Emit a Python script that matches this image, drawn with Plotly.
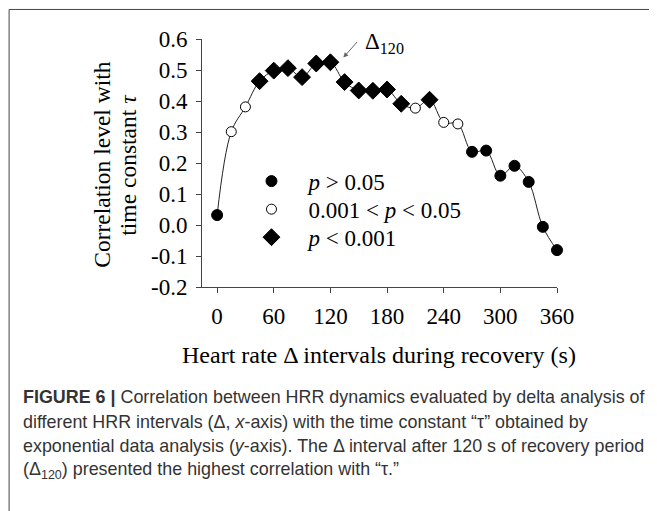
import plotly.graph_objects as go

# ---- data ----
intervals = [0, 15, 30, 45, 60, 75, 90, 105, 120, 135, 150, 165, 180,
             195, 210, 225, 240, 255, 270, 285, 300, 315, 330, 345, 360]
correlation = [0.032, 0.301, 0.381, 0.464, 0.498, 0.506, 0.477, 0.521, 0.525,
               0.461, 0.434, 0.433, 0.437, 0.391, 0.377, 0.404, 0.331, 0.326,
               0.236, 0.240, 0.159, 0.191, 0.139, -0.006, -0.081]
# significance class per point: 'ns' p>0.05, 'mid' 0.001<p<0.05, 'hi' p<0.001
significance = ['ns', 'mid', 'mid', 'hi', 'hi', 'hi', 'hi', 'hi', 'hi',
                'hi', 'hi', 'hi', 'hi', 'hi', 'mid', 'hi', 'mid', 'mid',
                'ns', 'ns', 'ns', 'ns', 'ns', 'ns', 'ns']
legend_labels = {
    'ns': '<i>p</i> &gt; 0.05',
    'mid': '0.001 &lt; <i>p</i> &lt; 0.05',
    'hi': '<i>p</i> &lt; 0.001',
}
x_ticks = [0, 60, 120, 180, 240, 300, 360]
y_ticks = [-0.2, -0.1, 0.0, 0.1, 0.2, 0.3, 0.4, 0.5, 0.6]
y_ticktext = ['-0.2', '-0.1', '0.0', '0.1', '0.2', '0.3', '0.4', '0.5', '0.6']

y_title_lines = ['Correlation level with', 'time constant <i>τ</i>']
x_title = 'Heart rate Δ intervals during recovery (s)'
caption_lines = [
    '<b>FIGURE 6 |</b> Correlation between HRR dynamics evaluated by delta analysis of',
    'different HRR intervals (Δ, <i>x</i>-axis) with the time constant “τ” obtained by',
    'exponential data analysis (<i>y</i>-axis). The Δ interval after 120 s of recovery period',
    '(Δ<sub>120</sub>) presented the highest correlation with “τ.”',
]

SERIF = 'Liberation Serif, Times New Roman, serif'
CAPFONT = 'Liberation Sans, Arial, sans-serif'

# the page body has an 8px margin, so the figure is drawn 8px in from the window
OFF = 8
W, H = 657 - OFF, 511 - OFF
L, T = 201.5 - OFF, 39 - OFF
pw, ph = 355.2, 247.7
R, B = W - L - pw, H - T - ph


def px2paper(px, py):
    """window pixel -> paper coordinate"""
    return (px - OFF - L) / pw, (H - B - (py - OFF)) / ph


fig = go.Figure()

# connecting smoothed line
fig.add_trace(go.Scatter(
    x=intervals, y=correlation, mode='lines',
    line=dict(color='#222', width=1, shape='spline', smoothing=1),
    showlegend=False, hoverinfo='skip', cliponaxis=False))

styles = {
    'ns': dict(symbol='circle', size=11, color='black', line=dict(color='black', width=1)),
    'mid': dict(symbol='circle', size=10, color='white', line=dict(color='black', width=1)),
    'hi': dict(symbol='diamond', size=13, color='black', line=dict(color='black', width=1)),
}
legend_ids = {'ns': 'legend', 'mid': 'legend2', 'hi': 'legend3'}
legend_rows = {'ns': 181, 'mid': 209, 'hi': 237}
for key in ['ns', 'mid', 'hi']:
    xs = [x for x, s in zip(intervals, significance) if s == key]
    ys = [y for y, s in zip(correlation, significance) if s == key]
    fig.add_trace(go.Scatter(
        x=xs, y=ys, mode='markers', name=legend_labels[key],
        marker=styles[key], showlegend=True, legend=legend_ids[key],
        cliponaxis=False))

legend_common = dict(xanchor='left', yanchor='middle',
                     font=dict(family=SERIF, size=23, color='black'),
                     bgcolor='rgba(0,0,0,0)', itemwidth=64, borderwidth=0)
legends = {}
for key in ['ns', 'mid', 'hi']:
    lx, ly = px2paper(234, legend_rows[key])
    legends[legend_ids[key]] = dict(x=lx, y=ly, **legend_common)

fig.update_layout(
    width=W, height=H,
    margin=dict(l=L, r=R, t=T, b=B),
    plot_bgcolor='white', paper_bgcolor='white',
    showlegend=True,
    xaxis=dict(range=[-16, 360], tickvals=x_ticks, ticks='outside', ticklen=5,
               tickcolor='#444', showline=True, linecolor='#444', linewidth=1,
               showgrid=False, zeroline=False, automargin=False,
               tickfont=dict(family=SERIF, size=23, color='black'),
               ticklabelstandoff=3),
    yaxis=dict(range=[-0.2, 0.6], tickvals=y_ticks, ticktext=y_ticktext,
               ticks='outside', ticklen=5, tickcolor='#444', showline=True,
               linecolor='#444', linewidth=1, showgrid=False, zeroline=False,
               automargin=False,
               tickfont=dict(family=SERIF, size=23, color='black'),
               ticklabelstandoff=4),
    **legends,
)

# axis titles
tx, ty = px2paper(379, 355)
fig.add_annotation(xref='paper', yref='paper', x=tx, y=ty, showarrow=False,
                   text=x_title,
                   font=dict(family=SERIF, size=24, color='black'),
                   xanchor='center', yanchor='middle')
for line, lxp in zip(y_title_lines, [102, 128]):
    tx, ty = px2paper(lxp, 165)
    fig.add_annotation(xref='paper', yref='paper', x=tx, y=ty, showarrow=False,
                       text=line, textangle=-90,
                       font=dict(family=SERIF, size=23.5, color='black'),
                       xanchor='center', yanchor='middle')

# Δ120 label with arrow
fig.add_annotation(x=133.7, y=0.540, ax=15, ay=-17, text='', showarrow=True,
                   arrowhead=2, arrowsize=1, arrowwidth=1, arrowcolor='#666')
fig.add_annotation(x=154.5, y=0.588, text='Δ<sub>120</sub>', showarrow=False,
                   xanchor='left', yanchor='middle',
                   font=dict(family=SERIF, size=23, color='black'))

# caption
cap_y = [396.7, 421.7, 446, 470]
for line, cy in zip(caption_lines, cap_y):
    cx, cyp = px2paper(20, cy)
    fig.add_annotation(xref='paper', yref='paper', x=cx, y=cyp, showarrow=False,
                       text=line, xanchor='left', yanchor='middle',
                       font=dict(family=CAPFONT, size=17.9, color='#333'))

# frame
x0, y1 = px2paper(8.5, 9.5)
x1, y0 = px2paper(652.5, 530)
fig.add_shape(type='rect', xref='paper', yref='paper', x0=x0, x1=x1, y0=y0, y1=y1,
              line=dict(color='#444', width=1), layer='below')

fig.write_html('out.html')
